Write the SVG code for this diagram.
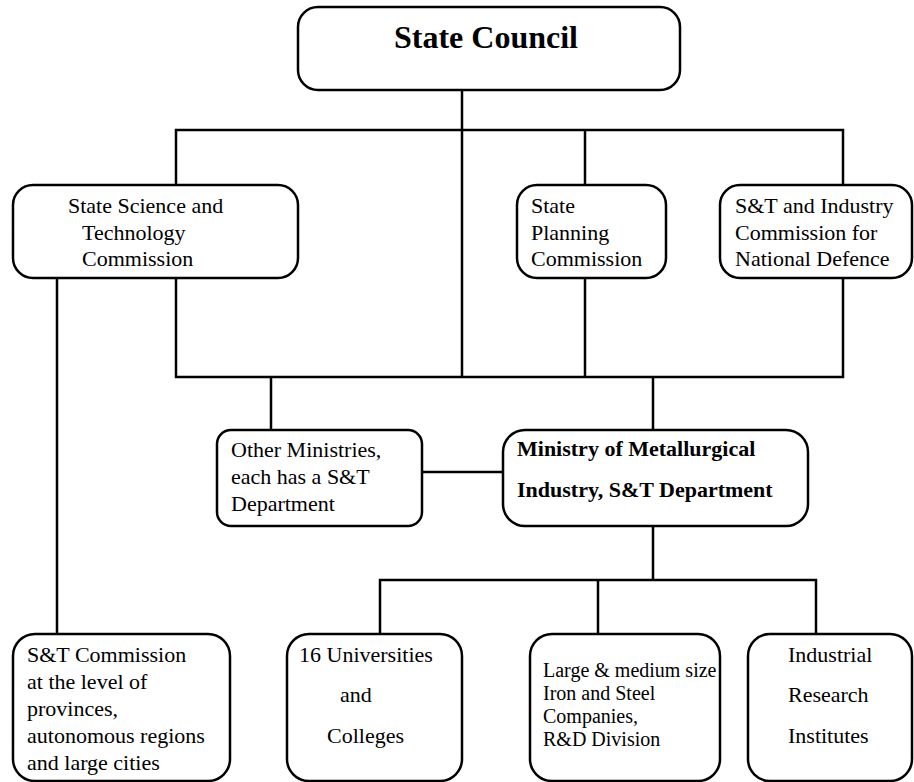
<svg xmlns="http://www.w3.org/2000/svg" width="914" height="782" viewBox="0 0 914 782">
<style>
.box{fill:#fff;stroke:#000;stroke-width:2.5}
.ln{fill:none;stroke:#000;stroke-width:2.5}
text{font-family:"Liberation Serif","Times New Roman",serif;font-size:22px;fill:#000}
.b{font-weight:bold}
.s{font-size:20px}
</style>
<rect width="914" height="782" fill="#fff"/>
<g id="connectors">
<path class="ln" d="M462,90 V377"/>
<path class="ln" d="M176,185 V130 H843 V185"/>
<path class="ln" d="M585,130 V185"/>
<path class="ln" d="M176,278 V377 H843 V278"/>
<path class="ln" d="M585,278 V377"/>
<path class="ln" d="M271,377 V430"/>
<path class="ln" d="M653,377 V430"/>
<path class="ln" d="M422,472 H503"/>
<path class="ln" d="M653,526 V580"/>
<path class="ln" d="M380,634 V580 H816 V634"/>
<path class="ln" d="M598,580 V634"/>
<path class="ln" d="M57,278 V634"/>
</g>
<g id="state-council">
<rect class="box" x="298" y="7" width="382" height="83" rx="20"/>
<text class="b" x="486" y="48" text-anchor="middle" style="font-size:32px">State Council</text>
</g>
<g id="sstc">
<rect class="box" x="13" y="185" width="285" height="93" rx="20"/>
<text x="68" y="213">State Science and</text>
<text x="82" y="240">Technology</text>
<text x="82" y="266">Commission</text>
</g>
<g id="spc">
<rect class="box" x="517" y="185" width="149" height="93" rx="20"/>
<text x="531" y="213">State</text>
<text x="531" y="240">Planning</text>
<text x="531" y="266">Commission</text>
</g>
<g id="stind">
<rect class="box" x="720" y="185" width="192" height="93" rx="20"/>
<text x="735" y="213">S&amp;T and Industry</text>
<text x="735" y="240">Commission for</text>
<text x="735" y="266">National Defence</text>
</g>
<g id="other-ministries">
<rect class="box" x="217" y="430" width="205" height="96" rx="14"/>
<text x="231" y="457">Other Ministries,</text>
<text x="231" y="484">each has a S&amp;T</text>
<text x="231" y="511">Department</text>
</g>
<g id="mmi">
<rect class="box" x="503" y="430" width="305" height="96" rx="22"/>
<text class="b" x="517" y="456">Ministry of Metallurgical</text>
<text class="b" x="517" y="497">Industry, S&amp;T Department</text>
</g>
<g id="provincial">
<rect class="box" x="13" y="634" width="217" height="147" rx="22"/>
<text x="27" y="662">S&amp;T Commission</text>
<text x="27" y="689">at the level of</text>
<text x="27" y="716">provinces,</text>
<text x="27" y="743">autonomous regions</text>
<text x="27" y="770">and large cities</text>
</g>
<g id="universities">
<rect class="box" x="287" y="634" width="175" height="147" rx="22"/>
<text x="299" y="662">16 Universities</text>
<text x="340" y="702">and</text>
<text x="327" y="743">Colleges</text>
</g>
<g id="companies">
<rect class="box" x="530" y="634" width="190" height="147" rx="22"/>
<text class="s" x="543" y="677">Large &amp; medium size</text>
<text class="s" x="543" y="700">Iron and Steel</text>
<text class="s" x="543" y="723">Companies,</text>
<text class="s" x="543" y="746">R&amp;D Division</text>
</g>
<g id="institutes">
<rect class="box" x="748" y="634" width="164" height="147" rx="22"/>
<text x="788" y="662">Industrial</text>
<text x="788" y="702">Research</text>
<text x="788" y="743">Institutes</text>
</g>
</svg>
